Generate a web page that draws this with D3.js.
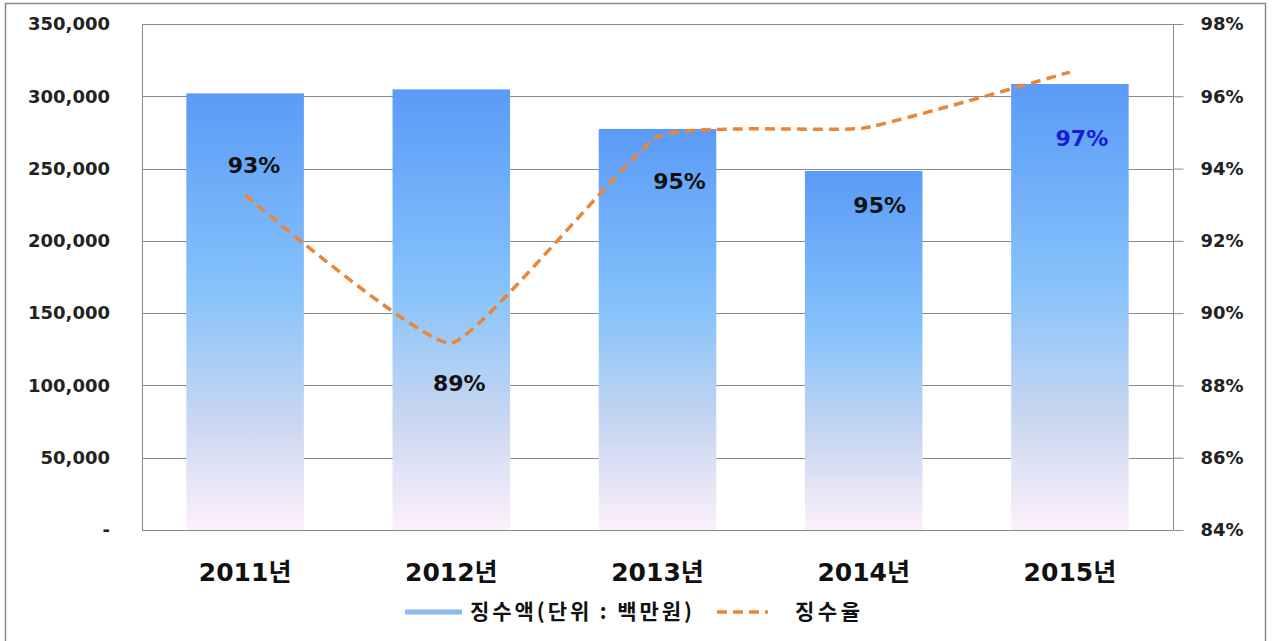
<!DOCTYPE html>
<html>
<head>
<meta charset="utf-8">
<script src="https://cdn.jsdelivr.net/npm/d3@7"></script>
<style>
  body { margin: 0; background: #fff; }
  text { font-family: "DejaVu Sans", Verdana, sans-serif; font-weight: bold; }
  .kr { font-family: "DejaVu Sans", "Noto Sans CJK KR", sans-serif; }
  .lg { font-family: "Noto Sans CJK KR", sans-serif; }
</style>
</head>
<body>
<div id="chart"></div>
<script>
// data
var years = ["2011년", "2012년", "2013년", "2014년", "2015년"];
var amounts = [302000, 304800, 277400, 248300, 308500];   // 징수액 (백만원)
var rates = [93.27, 89.17, 94.87, 95.12, 96.67];           // 징수율 (%)
var rateLabels = ["93%", "89%", "95%", "95%", "97%"];
var leftTicks = [0, 50000, 100000, 150000, 200000, 250000, 300000, 350000];
var rightTicks = [84, 86, 88, 90, 92, 94, 96, 98];

// label placement relative to each line point (layout only)
var labelDx = [9, 8, 22, 16, 12];
var labelDy = [-30, 40, 44, 77, 66];
var labelColor = ["#111", "#111", "#111", "#111", "#1a1ad8"];

var W = 1274, H = 641;
var margin = { top: 24, right: 101, bottom: 111, left: 142 };
var width = W - margin.left - margin.right;
var height = H - margin.top - margin.bottom;

var svg = d3.select("#chart").append("svg")
  .attr("width", W)
  .attr("height", H);

var defs = svg.append("defs");
var grad = defs.append("linearGradient")
  .attr("id", "barGrad")
  .attr("x1", 0).attr("y1", 0).attr("x2", 0).attr("y2", 1);
grad.append("stop").attr("offset", "0%").attr("stop-color", "#5a9bf7");
grad.append("stop").attr("offset", "45%").attr("stop-color", "#86c2fb");
grad.append("stop").attr("offset", "75%").attr("stop-color", "#c9d7f0");
grad.append("stop").attr("offset", "100%").attr("stop-color", "#fdf0fb");

// outer frame
svg.append("rect")
  .attr("x", 5.5).attr("y", 3.5)
  .attr("width", 1260).attr("height", 645)
  .attr("fill", "none")
  .attr("stroke", "#8a8a8a")
  .attr("stroke-width", 1.5);

var g = svg.append("g")
  .attr("transform", "translate(" + margin.left + "," + margin.top + ")");

var x = d3.scaleBand()
  .domain(years)
  .range([0, width])
  .paddingInner(0.43)
  .paddingOuter(0.215);

var y = d3.scaleLinear()
  .domain([0, 350000])
  .range([height, 0]);

var y2 = d3.scaleLinear()
  .domain([84, 98])
  .range([height, 0]);

// gridlines
g.append("g")
  .selectAll("line")
  .data(leftTicks)
  .enter()
  .append("line")
  .attr("x1", 0)
  .attr("x2", width)
  .attr("y1", function(d) { return Math.round(y(d)) + 0.5; })
  .attr("y2", function(d) { return Math.round(y(d)) + 0.5; })
  .attr("stroke", "#8a8a8a")
  .attr("stroke-width", 1);

// plot frame sides
g.append("line")
  .attr("x1", 0.5).attr("x2", 0.5).attr("y1", 0).attr("y2", height)
  .attr("stroke", "#8a8a8a");
g.append("line")
  .attr("x1", width + 0.5).attr("x2", width + 0.5).attr("y1", 0).attr("y2", height)
  .attr("stroke", "#8a8a8a");

// bars
g.selectAll("rect.bar")
  .data(amounts)
  .enter()
  .append("rect")
  .attr("class", "bar")
  .attr("x", function(d, i) { return x(years[i]); })
  .attr("width", x.bandwidth())
  .attr("y", function(d) { return y(d); })
  .attr("height", function(d) { return height - y(d); })
  .attr("fill", "url(#barGrad)");

// bottom axis line over the bars
g.append("line")
  .attr("x1", 0).attr("x2", width)
  .attr("y1", height + 0.5).attr("y2", height + 0.5)
  .attr("stroke", "#8a8a8a");

// left axis
var yAxis = d3.axisLeft(y)
  .tickValues(leftTicks)
  .tickSize(0)
  .tickPadding(32)
  .tickFormat(function(d) { return d === 0 ? "-" : d3.format(",")(d); });
var ya = g.append("g").call(yAxis);
ya.select(".domain").remove();
ya.selectAll("text")
  .style("font-size", "18px")
  .attr("fill", "#222");

// right axis
var y2Axis = d3.axisRight(y2)
  .tickValues(rightTicks)
  .tickSize(10)
  .tickPadding(17)
  .tickFormat(function(d) { return d + "%"; });
var ra = g.append("g")
  .attr("transform", "translate(" + (width + 0.5) + ",0)")
  .call(y2Axis);
ra.select(".domain").remove();
ra.selectAll("line").attr("stroke", "#8a8a8a");
ra.selectAll("text")
  .style("font-size", "18px")
  .attr("fill", "#222");

// category labels
g.append("g")
  .selectAll("text")
  .data(years)
  .enter()
  .append("text")
  .attr("class", "kr")
  .attr("x", function(d) { return x(d) + x.bandwidth() / 2; })
  .attr("y", height + 51)
  .attr("text-anchor", "middle")
  .style("font-size", "25px")
  .attr("fill", "#111")
  .text(function(d) { return d; });

// rate line
var line = d3.line()
  .x(function(d, i) { return x(years[i]) + x.bandwidth() / 2; })
  .y(function(d) { return y2(d); })
  .curve(d3.curveCardinal.tension(0.6));

g.append("path")
  .datum(rates)
  .attr("d", line)
  .attr("fill", "none")
  .attr("stroke", "#e8873a")
  .attr("stroke-width", 3.5)
  .attr("stroke-dasharray", "10,6");

// rate labels
g.append("g")
  .selectAll("text")
  .data(rates)
  .enter()
  .append("text")
  .attr("x", function(d, i) { return x(years[i]) + x.bandwidth() / 2 + labelDx[i]; })
  .attr("y", function(d, i) { return y2(d) + labelDy[i]; })
  .attr("dy", "0.35em")
  .attr("text-anchor", "middle")
  .style("font-size", "22px")
  .attr("fill", function(d, i) { return labelColor[i]; })
  .text(function(d, i) { return rateLabels[i]; });

// legend
var legend = svg.append("g").attr("transform", "translate(405,612)");
legend.append("line")
  .attr("x1", 0).attr("x2", 57).attr("y1", 0).attr("y2", 0)
  .attr("stroke", "#8cb9ef")
  .attr("stroke-width", 5);
legend.append("text")
  .attr("class", "lg")
  .attr("x", 65).attr("y", 0).attr("dy", "0.35em")
  .attr("textLength", 222)
  .attr("lengthAdjust", "spacing")
  .style("font-size", "21px")
  .attr("fill", "#111")
  .text("징수액(단위 : 백만원)");
legend.append("line")
  .attr("x1", 312).attr("x2", 363).attr("y1", 0).attr("y2", 0)
  .attr("stroke", "#e8873a")
  .attr("stroke-width", 3.5)
  .attr("stroke-dasharray", "10,6");
legend.append("text")
  .attr("class", "lg")
  .attr("x", 390).attr("y", 0).attr("dy", "0.35em")
  .attr("textLength", 65)
  .attr("lengthAdjust", "spacing")
  .style("font-size", "21px")
  .attr("fill", "#111")
  .text("징수율");
</script>
</body>
</html>
